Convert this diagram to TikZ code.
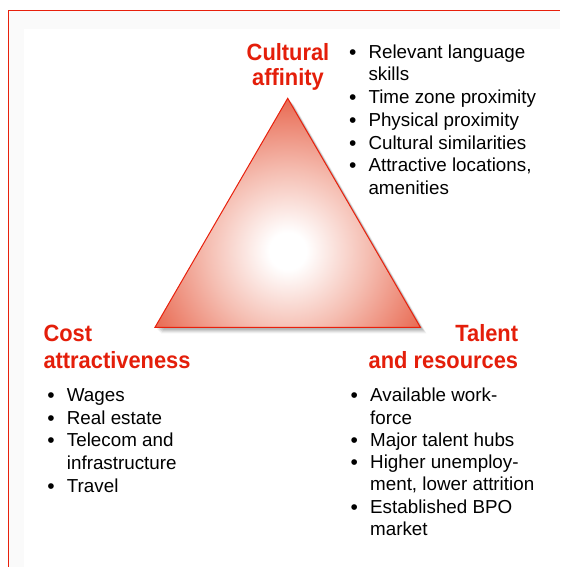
\documentclass[tikz,border=0pt]{standalone}
\usepackage{fontspec}
\setmainfont{Liberation Sans}
\newfontfamily\headfont[FakeStretch=0.93]{Liberation Sans}
\definecolor{framered}{RGB}{232,32,12}
\definecolor{headred}{RGB}{228,30,10}
\definecolor{tripink}{RGB}{245,190,178}
\definecolor{trired}{RGB}{232,104,80}
\pgfdeclareradialshading{triglow}{\pgfpoint{0bp}{0bp}}{%
  color(0bp)=(white); color(3bp)=(white); color(13bp)=(tripink);
  color(25bp)=(trired); color(50bp)=(trired)}
\tikzset{
  heading/.style={inner sep=0pt, text=headred, font=\headfont\bfseries\fontsize{23.5}{25}\selectfont},
  item/.style={inner sep=0pt, anchor=base west, font=\fontsize{18.8}{22.7}\selectfont},
  bul/.style={inner sep=0pt, anchor=base west, xshift=-19.5pt, yshift=-1pt, font=\fontsize{21}{22.7}\selectfont},
}
\begin{document}
\begin{tikzpicture}[x=1pt,y=-1pt]
  \useasboundingbox (0,0) rectangle (560,567);
  \fill[white] (0,0) rectangle (560,567);
  % faint panel band inside the frame
  \fill[black!2] (9,11) rectangle (560,567);
  \fill[white] (24,29) rectangle (560,567);
  % frame: left and top rules only
  \draw[framered, line width=1.5pt] (8.5,567) -- (8.5,10.5) -- (560,10.5);

  % triangle corners
  \coordinate (apex) at (287.7,98.3);
  \coordinate (bl) at (155,327.3);
  \coordinate (br) at (420.4,327.3);
  \coordinate (mid) at (287.7,250.9);

  % soft shadow
  \foreach \d/\o in {6/0.05,5/0.06,4/0.07,3/0.08,2/0.08} {
    \fill[black, opacity=\o] ([shift={(\d,\d)}]apex) -- ([shift={(\d,\d)}]bl) -- ([shift={(\d,\d)}]br) -- cycle;
  }
  % glowing fill
  \begin{scope}
    \clip (apex) -- (bl) -- (br) -- cycle;
    \shade[shading=triglow] (mid) circle (154);
  \end{scope}
  \draw[framered, line width=1pt, line join=miter] (apex) -- (bl) -- (br) -- cycle;

  % headings
  \node[heading, anchor=base] (h1a) at (288,61) {Cultural};
  \node[heading, anchor=base] (h1b) at (288,86) {affinity};
  \node[heading, anchor=base west] (h2a) at (43.3,341.7) {Cost};
  \node[heading, anchor=base west] (h2b) at (43.3,368) {attractiveness};
  \node[heading, anchor=base east] (h3a) at (518.3,341.7) {Talent};
  \node[heading, anchor=base east] (h3b) at (518.3,368) {and resources};

  % cultural affinity list
  \foreach \b/\t [count=\i from 0] in {1/Relevant language, 0/skills, 1/Time zone proximity,
      1/Physical proximity, 1/Cultural similarities, 1/{Attractive locations,}, 0/amenities} {
    \node[item] (cul\i) at (368.3,{58.3+\i*22.7}) {\t};
    \ifnum\b=1 \node[bul] (culb\i) at (cul\i.base west) {\textbullet}; \fi
  }
  % cost list
  \foreach \b/\t [count=\i from 0] in {1/Wages, 1/Real estate, 1/Telecom and,
      0/infrastructure, 1/Travel} {
    \node[item] (cost\i) at (66.7,{401.7+\i*22.6}) {\t};
    \ifnum\b=1 \node[bul] (costb\i) at (cost\i.base west) {\textbullet}; \fi
  }
  % talent list
  \foreach \b/\t [count=\i from 0] in {1/Available work-, 0/force, 1/Major talent hubs,
      1/Higher unemploy-, 0/{ment, lower attrition}, 1/Established BPO, 0/market} {
    \node[item] (tal\i) at (370,{401.7+\i*22.3}) {\t};
    \ifnum\b=1 \node[bul] (talb\i) at (tal\i.base west) {\textbullet}; \fi
  }
\end{tikzpicture}
\end{document}
